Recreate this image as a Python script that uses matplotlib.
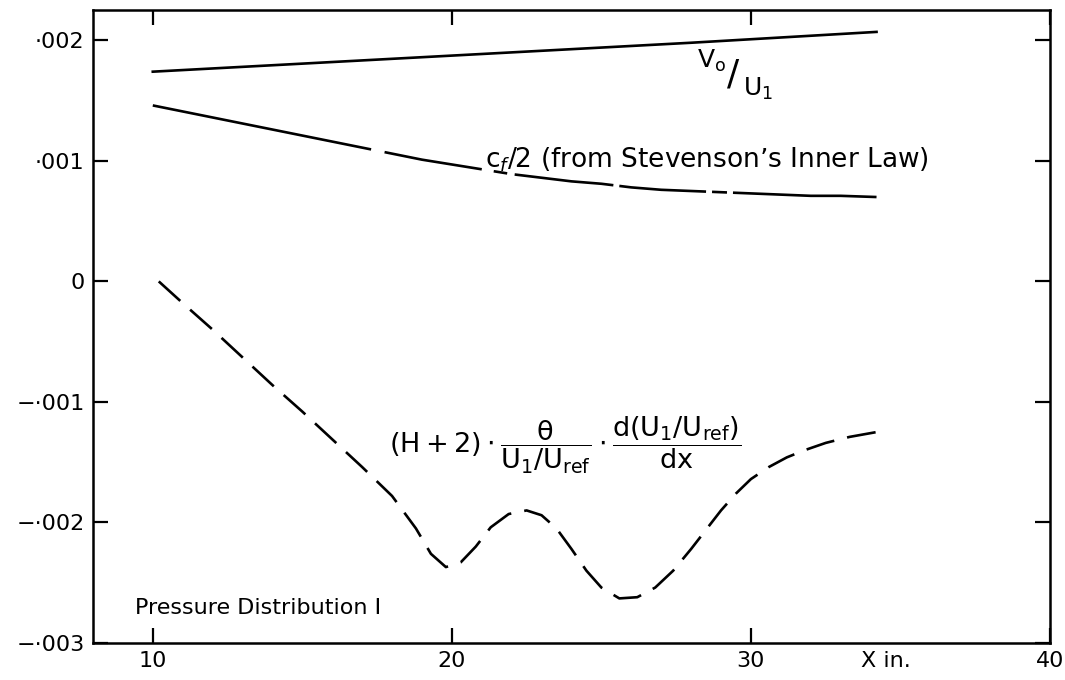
import numpy as np
import matplotlib.pyplot as plt

plt.rcParams['font.family'] = ['DejaVu Sans']
plt.rcParams['mathtext.fontset'] = 'dejavusans'

# V0/U1 (solid, nearly straight)
x_v0 = [10.0, 16.0, 22.0, 28.0, 34.2]
y_v0 = [0.00174, 0.00182, 0.00190, 0.00198, 0.00207]

# cf/2 from Stevenson's inner law
x_cf = [10.0, 11.0, 12.0, 13.0, 14.0, 15.0, 16.0, 17.0, 18.0, 19.0, 20.0,
        21.0, 22.0, 23.0, 24.0, 25.0, 26.0, 27.0, 28.0, 29.0, 30.0, 31.0,
        32.0, 33.0, 34.2]
y_cf = [0.00146, 0.00141, 0.00136, 0.00131, 0.00126, 0.00121, 0.00116,
        0.00111, 0.00106, 0.00101, 0.00097, 0.00093, 0.00089, 0.00086,
        0.00083, 0.00081, 0.00078, 0.00076, 0.00075, 0.00074, 0.00073,
        0.00072, 0.00071, 0.00071, 0.00070]

# (H+2) theta/(U1/Uref) d(U1/Uref)/dx
x_pg = [10.2, 11.0, 12.0, 13.0, 14.0, 15.0, 16.0, 17.0, 18.0, 18.8, 19.3,
        19.8, 20.3, 20.8, 21.3, 21.9, 22.5, 23.0, 23.5, 24.0, 24.5, 25.0,
        25.6, 26.2, 26.8, 27.4, 28.0, 28.5, 29.0, 29.5, 30.0, 30.6, 31.2,
        31.8, 32.5, 33.3, 34.2]
y_pg = [0.0, -0.00018, -0.00040, -0.00063, -0.00086, -0.00108, -0.00131,
        -0.00154, -0.00178, -0.00205, -0.00226, -0.00237, -0.00233,
        -0.00220, -0.00204, -0.00193, -0.00190, -0.00194, -0.00205,
        -0.00222, -0.00240, -0.00254, -0.00263, -0.00262, -0.00254,
        -0.00240, -0.00222, -0.00206, -0.00190, -0.00176, -0.00164,
        -0.00154, -0.00146, -0.00140, -0.00134, -0.00129, -0.00125]

x_ticks = [10, 20, 30, 40]
y_ticks = [0.002, 0.001, 0.0, -0.001, -0.002, -0.003]
y_ticklabels = ['·002', '·001', '0', '−·001', '−·002', '−·003']

# pieces of the cf/2 line that are inked (the rest is left as gaps)
cf_pieces = [(10.0, 17.3), (17.75, 21.0), (21.4, 21.85), (22.1, 25.4),
             (25.6, 28.5), (28.7, 29.2), (29.4, 34.2)]

fig = plt.figure(figsize=(10.65, 6.8), dpi=100)
ax = fig.add_axes([0.0873, 0.0544, 0.8986, 0.9306])

lw = 1.9
ax.plot(x_v0, y_v0, color='black', lw=lw)

xc = np.array(x_cf)
yc = np.array(y_cf)
for a, b in cf_pieces:
    xs = np.concatenate([[a], xc[(xc > a) & (xc < b)], [b]])
    ax.plot(xs, np.interp(xs, xc, yc), color='black', lw=lw,
            solid_capstyle='butt')

ax.plot(x_pg, y_pg, color='black', lw=lw, linestyle=(0, (11, 5)))

ax.set_xlim(8, 40)
ax.set_ylim(-0.003, 0.00225)
ax.set_xticks(x_ticks)
ax.set_yticks(y_ticks)
ax.set_yticklabels(y_ticklabels)
ax.tick_params(direction='in', length=11, width=1.6, top=True, right=True,
               labelsize=16, pad=6)
for s in ax.spines.values():
    s.set_linewidth(1.8)

# curve labels
ax.text(28.2, 0.00183, r'V$_{\mathrm{o}}$', fontsize=18, ha='left', va='center')
ax.text(29.2, 0.00172, '/', fontsize=26, ha='left', va='center')
ax.text(29.75, 0.00160, r'U$_1$', fontsize=18, ha='left', va='center')

ax.text(21.1, 0.00101, r'c$_f$/2 (from Stevenson’s Inner Law)', fontsize=19,
        ha='left', va='center')

ax.text(23.8, -0.00136,
        r'$\mathrm{(H+2)\cdot\dfrac{\theta}{U_1/U_{ref}}\cdot'
        r'\dfrac{d(U_1/U_{ref})}{dx}}$',
        fontsize=19.5, ha='center', va='center')

ax.text(9.4, -0.00271, 'Pressure Distribution I', fontsize=16,
        ha='left', va='center')
ax.text(34.5, -0.00315, 'X in.', fontsize=16, ha='center', va='center')

fig.savefig('out.png', dpi=100)
